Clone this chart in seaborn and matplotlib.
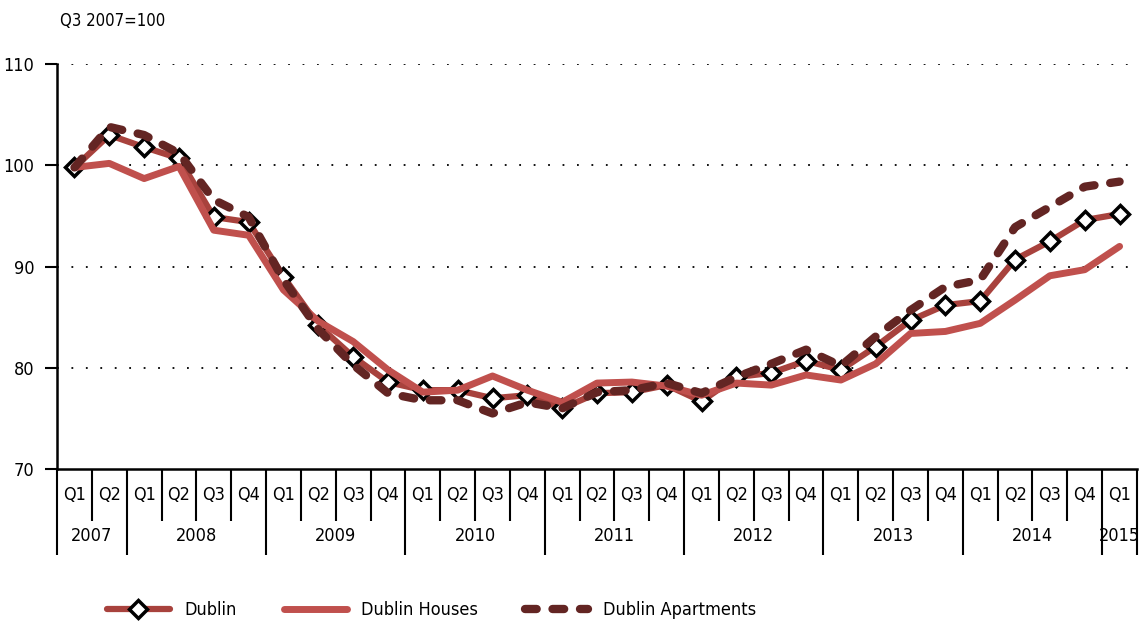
"""
Dublin residential property price index, Q3 2007 = 100
"""

import pandas as pd
import matplotlib
matplotlib.use('Agg')
import matplotlib.pyplot as plt
import seaborn as sns
from matplotlib.lines import Line2D

# x axis groups
years = ['2007', '2008', '2009', '2010', '2011', '2012', '2013', '2014', '2015']
quarters_per_year = [2, 4, 4, 4, 4, 4, 4, 4, 1]
quarter_labels = (['Q1', 'Q2'] + ['Q1', 'Q2', 'Q3', 'Q4'] * 7 + ['Q1'])

# index values
dublin = [99.8, 103.0, 101.8, 100.7, 94.9, 94.4, 89.0, 84.2, 81.1, 78.6,
          77.8, 77.8, 77.0, 77.3, 76.0, 77.5, 77.6, 78.3, 76.7, 79.1,
          79.5, 80.7, 79.8, 82.1, 84.7, 86.2, 86.6, 90.7, 92.5, 94.6, 95.2]
houses = [99.8, 100.2, 98.7, 99.9, 93.6, 93.1, 87.7, 84.6, 82.6, 79.8,
          77.6, 77.8, 79.2, 77.8, 76.6, 78.5, 78.6, 78.2, 77.3, 78.5,
          78.3, 79.3, 78.8, 80.4, 83.4, 83.6, 84.4, 86.7, 89.1, 89.7, 92.0]
apartments = [99.8, 103.8, 103.0, 101.2, 96.6, 94.9, 88.7, 83.8, 80.3, 77.5,
              76.8, 76.8, 75.5, 76.6, 76.0, 77.6, 77.8, 78.5, 77.5, 79.1,
              80.4, 81.8, 80.2, 83.1, 85.7, 88.0, 88.7, 93.9, 95.9, 97.9, 98.4]

df = pd.DataFrame({'idx': range(len(quarter_labels)), 'Dublin': dublin,
                   'Dublin Houses': houses, 'Dublin Apartments': apartments})

sns.set_style('white')
plt.rcParams['font.family'] = ['DejaVu Sans']
plt.rcParams['font.stretch'] = 'condensed'
plt.rcParams['font.size'] = 13
plt.rcParams['text.color'] = 'black'
plt.rcParams['xtick.color'] = 'black'
plt.rcParams['ytick.color'] = 'black'

c_dub = '#A8423D'
c_house = '#C0504D'
c_apt = '#632523'
apt_dash = (0, (1.4, 1.9))

fig, ax = plt.subplots(figsize=(11.41, 6.23), dpi=100)
fig.subplots_adjust(left=0.05, right=0.9965, bottom=0.247, top=0.897)

sns.lineplot(data=df, x='idx', y='Dublin', ax=ax, color=c_dub, lw=4.5,
             marker='D', markersize=9, markerfacecolor='white',
             markeredgecolor='black', markeredgewidth=2.5, zorder=3)
sns.lineplot(data=df, x='idx', y='Dublin Houses', ax=ax, color=c_house,
             lw=5, zorder=4)
sns.lineplot(data=df, x='idx', y='Dublin Apartments', ax=ax, color=c_apt,
             lw=6, linestyle=apt_dash, dash_capstyle='round', zorder=5)

n = len(quarter_labels)
ax.set_xlim(-0.5, n - 0.5)
ax.set_ylim(70, 110)
ax.set_yticks([70, 80, 90, 100, 110])
ax.set_xlabel('')
ax.set_ylabel('')

# dotted gridlines
for v in [80, 90, 100, 110]:
    ax.axhline(v, color='black', lw=1.3, linestyle=(0, (1, 7)), zorder=1)

sns.despine(ax=ax, top=True, right=True)
for side in ['left', 'bottom']:
    ax.spines[side].set_color('black')
    ax.spines[side].set_linewidth(1.8)

ax.tick_params(axis='y', length=8.5, width=1.5, color='black', pad=8,
               labelsize=13, direction='out', left=True)

# quarter labels
ax.set_xticks(range(n))
ax.set_xticklabels(quarter_labels, fontsize=13)
ax.tick_params(axis='x', length=0, pad=12)

# separators of the category table below the axis
xt = ax.get_xaxis_transform()
year_edges = [-0.5]
for q in quarters_per_year:
    year_edges.append(year_edges[-1] + q)
for b in range(n + 1):
    edge = b - 0.5
    if edge in year_edges:
        ax.vlines(edge, -0.212, 0, transform=xt, color='black', lw=1.5,
                  clip_on=False)
    else:
        ax.vlines(edge, -0.128, 0, transform=xt, color='black', lw=1.5,
                  clip_on=False)

# year labels
for yr, lo, hi in zip(years, year_edges[:-1], year_edges[1:]):
    ax.text((lo + hi) / 2, -0.165, yr, transform=xt, ha='center',
            va='center', fontsize=13)

fig.text(0.053, 0.967, 'Q3 2007=100', fontsize=12, ha='left', va='center')

handles = [
    Line2D([], [], color=c_dub, lw=4.5, marker='D', markersize=9,
           markerfacecolor='white', markeredgecolor='black',
           markeredgewidth=2.5),
    Line2D([], [], color=c_house, lw=5),
    Line2D([], [], color=c_apt, lw=6, linestyle=apt_dash,
           dash_capstyle='round'),
]
fig.legend(handles, ['Dublin', 'Dublin Houses', 'Dublin Apartments'],
           loc='center', bbox_to_anchor=(0.378, 0.021), ncol=3,
           frameon=False, fontsize=13, handlelength=3.5,
           handletextpad=0.8, columnspacing=2.6)

fig.savefig('out.png', dpi=100)
plt.close(fig)
